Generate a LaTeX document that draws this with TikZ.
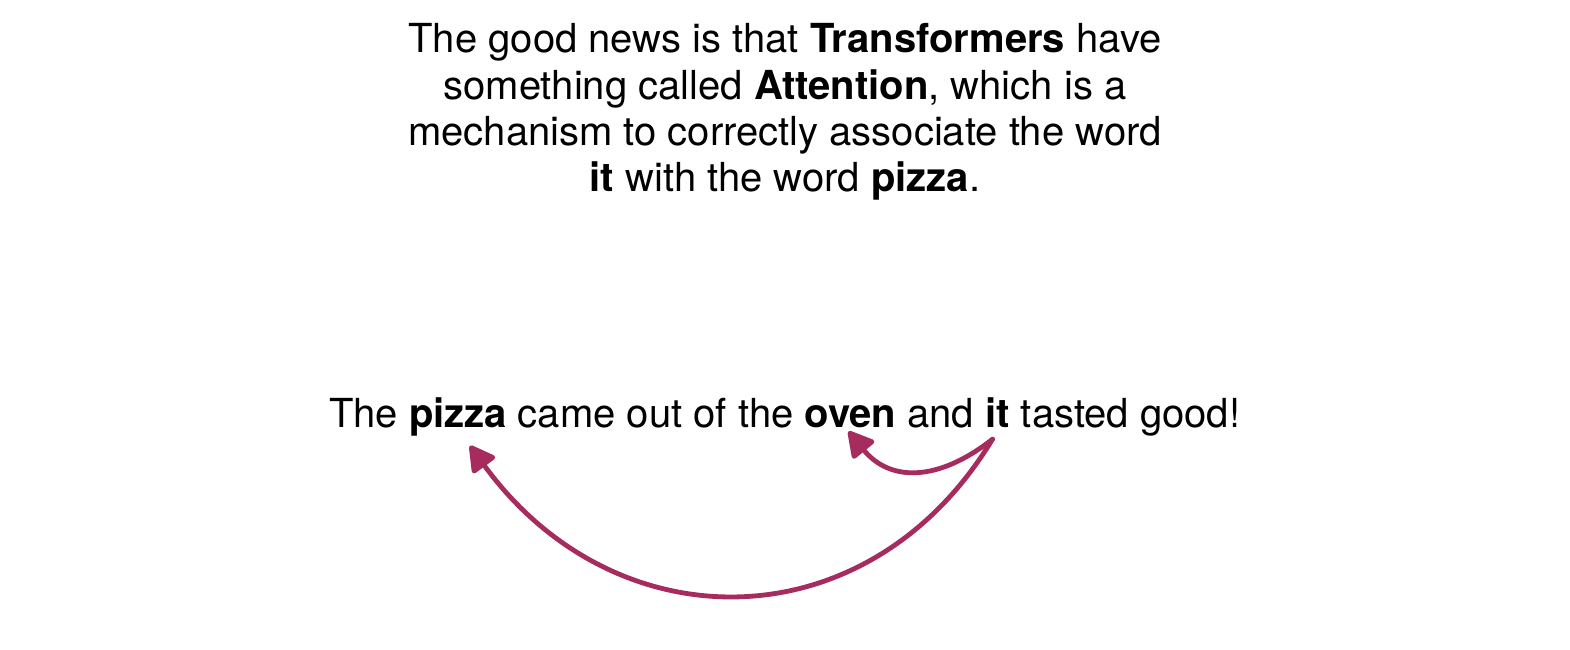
\documentclass[tikz,border=0pt]{standalone}
\usepackage{fontspec}
\setmainfont{TeX Gyre Heros}
\usetikzlibrary{arrows.meta}
\definecolor{arrcol}{HTML}{A62B5E}
\begin{document}
\begin{tikzpicture}[x=0.5pt,y=-0.5pt,
  txt/.style={font=\fontsize{20}{23.2}\selectfont, inner sep=0pt, outer sep=0pt},
  word/.style={txt, anchor=base west},
  arr/.style={draw=arrcol, line width=2.4pt, line cap=round,
    -{Triangle[length=14pt,width=15pt,round]}, arrcol}]
\useasboundingbox (0,0) rectangle (1570,649);
\node[txt, align=center] (para) at (785,112)
  {The good news is that \textbf{Transformers} have\\
   something called \textbf{Attention}, which is a\\
   mechanism to correctly associate the word\\
   \textbf{it} with the word \textbf{pizza}.};
\node[word] (w1) at (329,427) {The\ \null};
\node[word, at=(w1.base east)] (pizza) {\textbf{pizza}};
\node[word, at=(pizza.base east)] (w3) {\null\ came out of the\ \null};
\node[word, at=(w3.base east)] (oven) {\textbf{oven}};
\node[word, at=(oven.base east)] (w5) {\null\ and\ \null};
\node[word, at=(w5.base east)] (it) {\textbf{it}};
\node[word, at=(it.base east)] (w7) {\null\ tasted good!};
\coordinate (itS) at ([xshift=-2.5pt,yshift=-6pt]it.south);
\coordinate (pizzaS) at ([xshift=6pt,yshift=-5pt]pizza.south);
\coordinate (ovenS) at ([xshift=-1pt,yshift=-2pt]oven.south);
\draw[arr] (itS) .. controls (868,645) and (615,645) .. (pizzaS);
\draw[arr] (itS) .. controls (938,482) and (890,482) .. (ovenS);
\end{tikzpicture}
\end{document}
